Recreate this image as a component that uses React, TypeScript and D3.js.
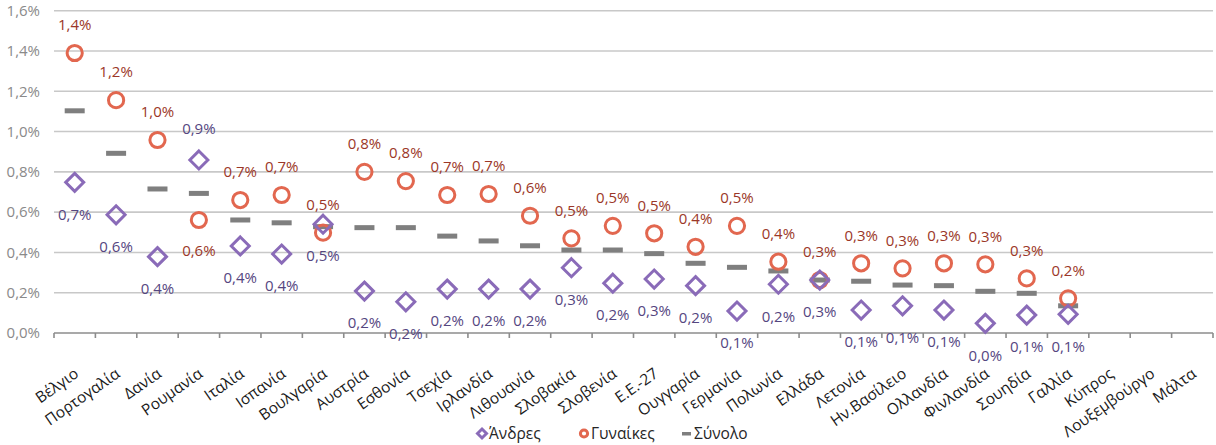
import React from "react";
import * as d3 from "d3";

const categories = [
  "Βέλγιο", "Πορτογαλία", "Δανία", "Ρουμανία", "Ιταλία", "Ισπανία", "Βουλγαρία",
  "Αυστρία", "Εσθονία", "Τσεχία", "Ιρλανδία", "Λιθουανία", "Σλοβακία", "Σλοβενία",
  "Ε.Ε.-27", "Ουγγαρία", "Γερμανία", "Πολωνία", "Ελλάδα", "Λετονία", "Ην.Βασίλειο",
  "Ολλανδία", "Φινλανδία", "Σουηδία", "Γαλλία", "Κύπρος", "Λουξεμβούργο", "Μάλτα",
];

const men: (number | null)[] = [
  0.748, 0.587, 0.379, 0.859, 0.432, 0.392, 0.54, 0.208, 0.155, 0.218, 0.218, 0.218,
  0.324, 0.247, 0.268, 0.235, 0.109, 0.242, 0.263, 0.114, 0.135, 0.114, 0.048, 0.089,
  0.093, null, null, null,
];

const women: (number | null)[] = [
  1.39, 1.156, 0.958, 0.561, 0.66, 0.685, 0.498, 0.8, 0.754, 0.685, 0.69, 0.582,
  0.47, 0.532, 0.495, 0.428, 0.532, 0.354, 0.263, 0.346, 0.321, 0.346, 0.341, 0.271,
  0.172, null, null, null,
];

const total: (number | null)[] = [
  1.103, 0.892, 0.715, 0.693, 0.561, 0.547, 0.528, 0.523, 0.523, 0.481, 0.457, 0.433,
  0.412, 0.412, 0.394, 0.346, 0.326, 0.308, 0.263, 0.257, 0.238, 0.235, 0.207, 0.197,
  0.135, null, null, null,
];

const yTicks = [0, 0.2, 0.4, 0.6, 0.8, 1.0, 1.2, 1.4, 1.6];

const seriesNames = ["Άνδρες", "Γυναίκες", "Σύνολο"];

// categories where the men label sits above and the women label below
const flippedLabels = new Set(["Ρουμανία"]);

const FONT = "'Open Sans', 'Noto Sans', sans-serif";
const C_MEN = "#8a6bb8";
const C_WOMEN = "#e2674f";
const C_TOTAL = "#7f7f7f";
const C_MEN_LBL = "#55467f";
const C_WOMEN_LBL = "#9b3728";

const fmt = (v: number) => v.toFixed(1).replace(".", ",") + "%";

export default function App() {
  const W = 1216;
  const H = 445;
  const x = d3.scaleBand<string>().domain(categories).range([54, 1213]).padding(0);
  const y = d3.scaleLinear().domain([0, 1.6]).range([333, 10.7]);
  const cx = (c: string) => (x(c) as number) + x.bandwidth() / 2;

  return (
    <div style={{ position: "absolute", left: 0, top: 0 }}>
      <svg width={W} height={H} style={{ display: "block", fontFamily: FONT }}>
        <rect width={W} height={H} fill="#ffffff" />
        {yTicks.filter((t) => t > 0).map((t) => (
          <line key={t} x1={54} x2={1213} y1={y(t)} y2={y(t)} stroke="#c8c8c8" strokeWidth={1.6} />
        ))}
        {yTicks.map((t) => (
          <text key={t} x={40} y={y(t)} dy="0.35em" textAnchor="end" fontSize={15} fill="#8a8a8a">
            {fmt(t)}
          </text>
        ))}
        <line x1={54} x2={1213} y1={y(0)} y2={y(0)} stroke="#8c8c8c" strokeWidth={1.6} />
        {d3.range(categories.length + 1).map((i) => {
          const xx = 54 + i * x.step();
          return <line key={i} x1={xx} x2={xx} y1={y(0)} y2={y(0) + 5} stroke="#8c8c8c" strokeWidth={1.6} />;
        })}
        {categories.map((c) => (
          <text
            key={c}
            transform={`translate(${cx(c) + 5},${376}) rotate(-35)`}
            textAnchor="end"
            fontSize={15.5}
            fill="#1a1a1a"
          >
            {c}
          </text>
        ))}
        {categories.map((c, i) =>
          total[i] == null ? null : (
            <rect key={c} x={cx(c) - 10} y={y(total[i] as number) - 2.5} width={20} height={5} fill={C_TOTAL} />
          )
        )}
        {categories.map((c, i) =>
          women[i] == null ? null : (
            <circle key={c} cx={cx(c)} cy={y(women[i] as number)} r={7.6} fill="none" stroke={C_WOMEN} strokeWidth={3} />
          )
        )}
        {categories.map((c, i) => {
          const v = men[i];
          if (v == null) return null;
          const px = cx(c);
          const py = y(v);
          const s = 9;
          return (
            <path
              key={c}
              d={`M${px},${py - s}L${px + s},${py}L${px},${py + s}L${px - s},${py}Z`}
              fill="none"
              stroke={C_MEN}
              strokeWidth={3}
            />
          );
        })}
        {categories.map((c, i) => {
          const v = women[i];
          if (v == null) return null;
          const flip = flippedLabels.has(c);
          return (
            <text key={c} x={cx(c)} y={y(v) + (flip ? 31 : -28)} dy="0.35em" textAnchor="middle" fontSize={15} fill={C_WOMEN_LBL}>
              {fmt(v)}
            </text>
          );
        })}
        {categories.map((c, i) => {
          const v = men[i];
          if (v == null) return null;
          const flip = flippedLabels.has(c);
          return (
            <text key={c} x={cx(c)} y={y(v) + (flip ? -31 : 32)} dy="0.35em" textAnchor="middle" fontSize={15} fill={C_MEN_LBL}>
              {fmt(v)}
            </text>
          );
        })}
        <g fontSize={15.5} fill="#262626">
          <path d="M482,429L486.5,433.5L482,438L477.5,433.5Z" fill="none" stroke={C_MEN} strokeWidth={3} />
          <text x={489} y={434} dy="0.35em">{seriesNames[0]}</text>
          <circle cx={584} cy={433.5} r={3.6} fill="none" stroke={C_WOMEN} strokeWidth={3} />
          <text x={591} y={434} dy="0.35em">{seriesNames[1]}</text>
          <rect x={682} y={432} width={9} height={3.5} fill={C_TOTAL} />
          <text x={694} y={434} dy="0.35em">{seriesNames[2]}</text>
        </g>
      </svg>
    </div>
  );
}
